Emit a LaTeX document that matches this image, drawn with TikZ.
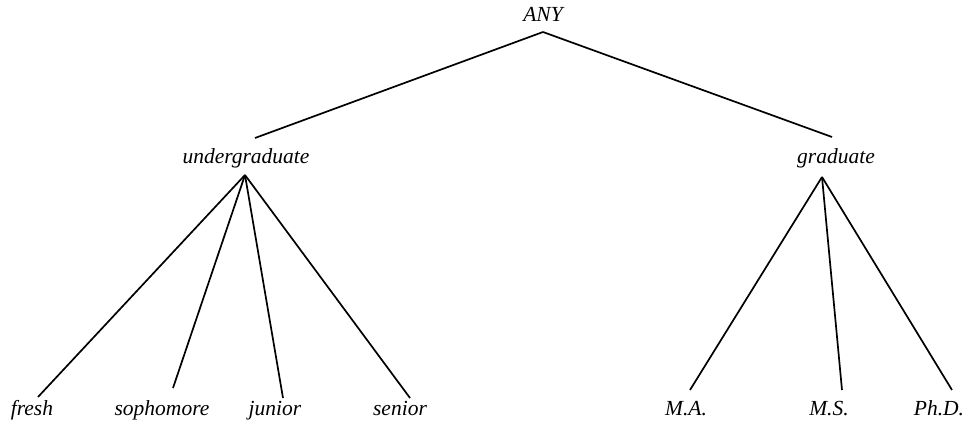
\documentclass[tikz,border=0pt]{standalone}
\usepackage{fontspec}
\setmainfont{Liberation Serif}
\begin{document}
\begin{tikzpicture}[x=1pt,y=-1pt,
  lbl/.style={font=\itshape\fontsize{21.5}{21.5}\selectfont, inner sep=0pt, anchor=base},
  edge/.style={line width=1.7pt}]
\useasboundingbox (0,0) rectangle (967,425);
% root
\node[lbl] (any) at (543,22) {ANY};
% second level
\node[lbl] (ug) at (246,164) {undergraduate};
\node[lbl] (gr) at (836,164) {graduate};
% leaves
\node[lbl] (fresh) at (32,415) {fresh};
\node[lbl] (soph) at (162,415) {sophomore};
\node[lbl] (jun) at (275,415) {junior};
\node[lbl] (sen) at (400,415) {senior};
\node[lbl] (ma) at (686,415) {M.A.};
\node[lbl] (ms) at (829,415) {M.S.};
\node[lbl] (phd) at (939,415) {Ph.D.};
% branches from the root
\draw[edge] ([shift={(0,10)}]any.base) -- ([shift={(9,-26)}]ug.base);
\draw[edge] ([shift={(0,10)}]any.base) -- ([shift={(-4,-27)}]gr.base);
% undergraduate fan
\draw[edge] ([shift={(-1,11)}]ug.base) -- ([shift={(6,-18)}]fresh.base);
\draw[edge] ([shift={(-1,11)}]ug.base) -- ([shift={(11,-27)}]soph.base);
\draw[edge] ([shift={(-1,11)}]ug.base) -- ([shift={(8,-17)}]jun.base);
\draw[edge] ([shift={(-1,11)}]ug.base) -- ([shift={(10,-17)}]sen.base);
% graduate fan
\draw[edge] ([shift={(-14,13)}]gr.base) -- ([shift={(4,-25)}]ma.base);
\draw[edge] ([shift={(-14,13)}]gr.base) -- ([shift={(13,-25)}]ms.base);
\draw[edge] ([shift={(-14,13)}]gr.base) -- ([shift={(13,-25)}]phd.base);
\end{tikzpicture}
\end{document}
